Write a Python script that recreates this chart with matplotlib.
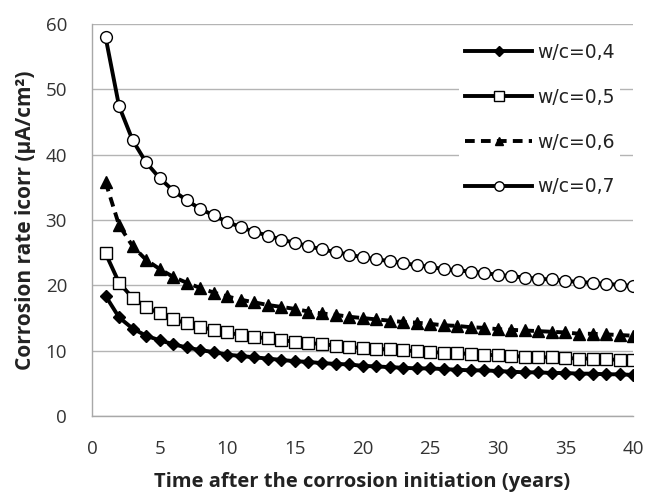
import matplotlib
matplotlib.use("Agg")
import matplotlib.pyplot as plt

plt.rcParams['font.family'] = ['Open Sans', 'DejaVu Sans']

# years after corrosion initiation
years = list(range(1, 41))

# corrosion rate icorr (uA/cm2)
wc04 = [18.4, 15.1, 13.4, 12.3, 11.6, 11.0, 10.5, 10.1, 9.8, 9.4,
        9.2, 9.0, 8.8, 8.6, 8.4, 8.3, 8.1, 8.0, 7.9, 7.7,
        7.6, 7.5, 7.4, 7.3, 7.3, 7.2, 7.1, 7.0, 7.0, 6.9,
        6.8, 6.7, 6.7, 6.6, 6.6, 6.5, 6.5, 6.4, 6.4, 6.3]
wc05 = [24.9, 20.4, 18.1, 16.7, 15.7, 14.8, 14.2, 13.6, 13.2, 12.8,
        12.4, 12.1, 11.9, 11.6, 11.4, 11.2, 11.0, 10.8, 10.6, 10.4,
        10.3, 10.2, 10.1, 9.9, 9.8, 9.7, 9.6, 9.5, 9.4, 9.3,
        9.2, 9.1, 9.0, 9.0, 8.9, 8.8, 8.8, 8.7, 8.6, 8.6]
wc06 = [35.8, 29.2, 26.0, 23.9, 22.5, 21.3, 20.4, 19.6, 18.9, 18.3,
        17.8, 17.4, 17.0, 16.7, 16.4, 16.0, 15.7, 15.5, 15.2, 15.0,
        14.8, 14.6, 14.4, 14.3, 14.1, 13.9, 13.8, 13.6, 13.5, 13.3,
        13.2, 13.1, 13.0, 12.9, 12.8, 12.6, 12.6, 12.5, 12.4, 12.3]
wc07 = [58.0, 47.4, 42.2, 38.8, 36.4, 34.5, 33.0, 31.7, 30.7, 29.7,
        28.9, 28.2, 27.6, 27.0, 26.5, 26.0, 25.5, 25.1, 24.7, 24.3,
        24.0, 23.7, 23.4, 23.1, 22.8, 22.5, 22.3, 22.1, 21.9, 21.6,
        21.4, 21.2, 21.0, 20.9, 20.7, 20.5, 20.4, 20.2, 20.1, 19.9]

labels = ['w/c=0,4', 'w/c=0,5', 'w/c=0,6', 'w/c=0,7']

fig = plt.figure(figsize=(6.48, 4.96), dpi=100)
ax = fig.add_axes([0.142, 0.161, 0.835, 0.791])

ax.plot(years, wc04, color='black', lw=2.8, marker='D', ms=6,
        mfc='black', mec='black', label=labels[0], zorder=3)
ax.plot(years, wc05, color='black', lw=2.8, marker='s', ms=8.5,
        mfc='white', mec='black', mew=1.0, label=labels[1], zorder=3)
ax.plot(years, wc06, color='black', lw=2.8, ls=(0, (2.5, 1.6)), marker='^', ms=8,
        mfc='black', mec='black', label=labels[2], zorder=3)
ax.plot(years, wc07, color='black', lw=2.8, marker='o', ms=8.5,
        mfc='white', mec='black', mew=1.0, label=labels[3], zorder=3)

ax.set_xlim(0, 40)
ax.set_ylim(0, 60)
ax.set_xticks(range(0, 41, 5))
ax.set_yticks(range(0, 61, 10))
ax.grid(axis='y', color='#b4b4b4', lw=1.0)
ax.set_axisbelow(True)

for s in ['top', 'right']:
    ax.spines[s].set_visible(False)
for s in ['left', 'bottom']:
    ax.spines[s].set_color('#a8a8a8')
    ax.spines[s].set_linewidth(1.0)
ax.tick_params(length=0, labelsize=13.5, colors='#333333')
ax.tick_params(axis='x', pad=17)
ax.tick_params(axis='y', pad=18)

ax.set_xlabel('Time after the corrosion initiation (years)', fontsize=14.5,
              fontweight='bold', color='#222222', labelpad=10)
ax.set_ylabel('Corrosion rate icorr (µA/cm²)', fontsize=15,
              fontweight='bold', color='#222222', labelpad=7)

leg = ax.legend(loc='upper left', bbox_to_anchor=(0.679, 0.966), frameon=True,
                prop={'family': 'DejaVu Sans', 'size': 13.5},
                handlelength=3.57, handletextpad=0.27, markerscale=0.8,
                labelspacing=1.38, borderpad=0.3, borderaxespad=0)
leg.get_frame().set_edgecolor('none')
leg.get_frame().set_facecolor('white')
leg.get_frame().set_alpha(1.0)
leg.get_frame().set_boxstyle('square', pad=0)
for t in leg.get_texts():
    t.set_color('#222222')

fig.savefig('out.png', dpi=100)
